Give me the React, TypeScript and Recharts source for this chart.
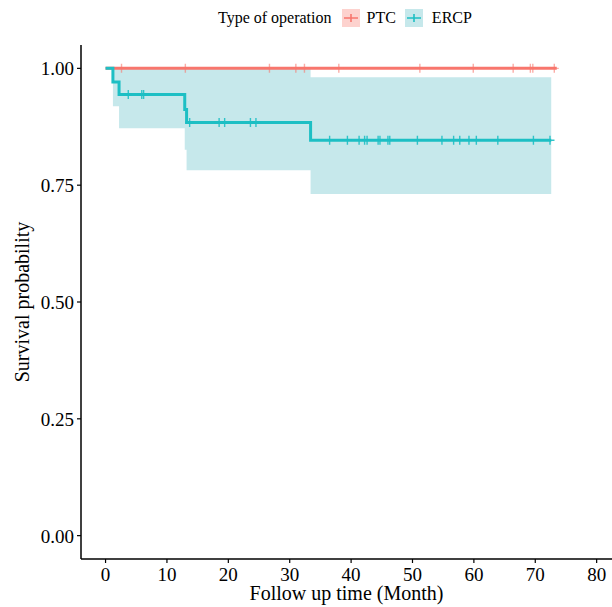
import React from 'react';
import { ComposedChart, Line, Area, Scatter, XAxis, YAxis, Label } from 'recharts';

const xTicks = [0, 10, 20, 30, 40, 50, 60, 70, 80];
const yTicks = [0, 0.25, 0.5, 0.75, 1];

// PTC group: no events
const ptcTime = [0, 73.5];
const ptcSurv = [1, 1];
const ptcCensorTime = [2.6, 13.0, 26.7, 31.0, 32.4, 38.0, 51.2, 59.9, 66.4, 69.2, 69.6, 73.1];
const ptcCensorSurv = [1, 1, 1, 1, 1, 1, 1, 1, 1, 1, 1, 1];

// ERCP group
const ercpTime = [0, 1.2, 2.2, 12.9, 13.2, 33.4, 72.6];
const ercpSurv = [1, 0.971, 0.944, 0.912, 0.884, 0.846, 0.846];
const ercpLower = [1, 0.919, 0.872, 0.826, 0.782, 0.731, 0.731];
const ercpUpper = [1, 1, 1, 1, 1, 0.981, 0.981];
const ercpCensorTime = [
  3.7, 5.9, 6.2,
  13.7, 18.5, 19.4, 23.6, 24.5,
  36.5, 39.4, 41.3, 42.2, 42.6, 44.4, 44.7, 46.0, 46.3, 50.8, 54.8, 56.7, 57.7, 59.2, 60.4, 63.9, 69.7, 72.4,
];
const ercpCensorSurv = [
  0.944, 0.944, 0.944,
  0.884, 0.884, 0.884, 0.884, 0.884,
  0.846, 0.846, 0.846, 0.846, 0.846, 0.846, 0.846, 0.846, 0.846, 0.846, 0.846, 0.846, 0.846, 0.846, 0.846, 0.846, 0.846, 0.846,
];

const PTC = '#F8766D';
const ERCP = '#1DBFC4';
const ERCP_BAND = '#c6e8eb';
const FONT = '"Liberation Serif", "Times New Roman", serif';

const ptcLine = ptcTime.map((t, i) => ({ t, s: ptcSurv[i] }));
const ercpLine = ercpTime.map((t, i) => ({ t, s: ercpSurv[i], lo: ercpLower[i], hi: ercpUpper[i] }));
const ptcCensor = ptcCensorTime.map((t, i) => ({ t, s: ptcCensorSurv[i] }));
const ercpCensor = ercpCensorTime.map((t, i) => ({ t, s: ercpCensorSurv[i] }));

const plus = (color: string, opacity: number) => (props: any) => {
  const { cx, cy } = props;
  if (cx == null || cy == null) return <g />;
  return (
    <path
      d={`M${cx - 4.5},${cy}h9M${cx},${cy - 4.5}v9`}
      stroke={color}
      strokeWidth={1.4}
      strokeOpacity={opacity}
      fill="none"
    />
  );
};

const XTick = (props: any) => {
  const { x, y, payload } = props;
  return (
    <text x={x} y={y + 15} textAnchor="middle" style={{ fontFamily: FONT, fontSize: 19 }} fill="#000">
      {payload.value}
    </text>
  );
};

const YTick = (props: any) => {
  const { x, y, payload } = props;
  return (
    <text x={x} y={y + 7} textAnchor="end" style={{ fontFamily: FONT, fontSize: 19 }} fill="#000">
      {Number(payload.value).toFixed(2)}
    </text>
  );
};

const LegendKey = ({ fill, color }: { fill: string; color: string }) => (
  <svg width={18} height={18} style={{ display: 'block' }}>
    <rect x={0} y={0} width={18} height={18} fill={fill} />
    <path d="M2,9h14M9,5v8" stroke={color} strokeWidth={1.6} />
  </svg>
);

export default function App() {
  return (
    <div style={{ position: 'absolute', left: 0, top: 0, width: 612, height: 607, background: '#fff', fontFamily: FONT }}>
      <div
        style={{
          position: 'absolute',
          left: 218,
          top: 0,
          height: 35,
          display: 'flex',
          alignItems: 'center',
          fontSize: 16,
          color: '#000',
          whiteSpace: 'nowrap',
        }}
      >
        <span>Type of operation</span>
        <span style={{ width: 10 }} />
        <LegendKey fill="#fdd2ce" color={PTC} />
        <span style={{ width: 7 }} />
        <span>PTC</span>
        <span style={{ width: 9 }} />
        <LegendKey fill={ERCP_BAND} color={ERCP} />
        <span style={{ width: 9 }} />
        <span>ERCP</span>
      </div>
      <ComposedChart width={612} height={607} margin={{ top: 45, right: 0, bottom: 0, left: 0 }}>
        <XAxis
          dataKey="t"
          type="number"
          domain={[-4, 82.5]}
          ticks={xTicks}
          allowDataOverflow
          height={48}
          tickSize={4}
          tickMargin={3}
          axisLine={{ stroke: '#000', strokeWidth: 1.5 }}
          tickLine={{ stroke: '#000', strokeWidth: 1.2 }}
          tick={<XTick />}
        >
          <Label
            content={({ viewBox }: any) => (
              <text
                x={viewBox.x + viewBox.width / 2}
                y={600}
                textAnchor="middle"
                style={{ fontFamily: FONT, fontSize: 20 }}
                fill="#000"
              >
                Follow up time (Month)
              </text>
            )}
          />
        </XAxis>
        <YAxis
          type="number"
          domain={[-0.05, 1.05]}
          ticks={yTicks}
          allowDataOverflow
          width={81}
          tickSize={4}
          tickMargin={3}
          axisLine={{ stroke: '#000', strokeWidth: 1.5 }}
          tickLine={{ stroke: '#000', strokeWidth: 1.2 }}
          tick={<YTick />}
        >
          <Label
            content={({ viewBox }: any) => {
              const cx = 29;
              const cy = viewBox.y + viewBox.height / 2;
              return (
                <text
                  x={cx}
                  y={cy}
                  transform={`rotate(-90 ${cx} ${cy})`}
                  textAnchor="middle"
                  style={{ fontFamily: FONT, fontSize: 20 }}
                  fill="#000"
                >
                  Survival probability
                </text>
              );
            }}
          />
        </YAxis>
        <Area
          data={ercpLine}
          dataKey={(d: any) => [d.lo, d.hi]}
          type="stepAfter"
          stroke="none"
          fill={ERCP_BAND}
          fillOpacity={1}
          isAnimationActive={false}
        />
        <Line
          data={ptcLine}
          dataKey="s"
          type="stepAfter"
          stroke={PTC}
          strokeWidth={3}
          dot={false}
          isAnimationActive={false}
        />
        <Line
          data={ercpLine}
          dataKey="s"
          type="stepAfter"
          stroke={ERCP}
          strokeWidth={3}
          dot={false}
          isAnimationActive={false}
        />
        <Scatter data={ptcCensor} dataKey="s" shape={plus(PTC, 0.6)} isAnimationActive={false} />
        <Scatter data={ercpCensor} dataKey="s" shape={plus(ERCP, 0.9)} isAnimationActive={false} />
      </ComposedChart>
    </div>
  );
}
